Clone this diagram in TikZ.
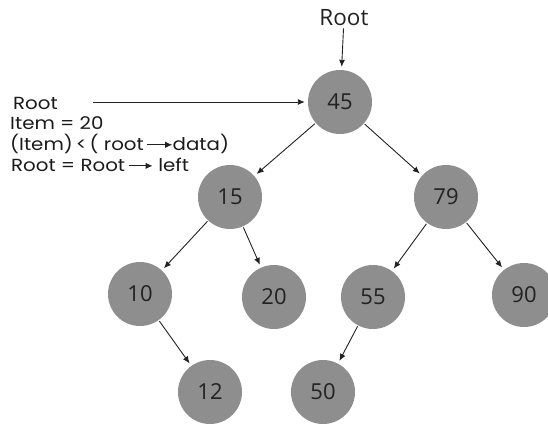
\documentclass[tikz,border=0pt]{standalone}
\usepackage{fontspec}
\setmainfont{Open Sans}
\newfontfamily\lblfont{Poppins}[FakeStretch=1.13]
\usetikzlibrary{arrows.meta}
\definecolor{nodegray}{HTML}{8E8E8E}
\definecolor{ink}{HTML}{222222}
\definecolor{lblink}{HTML}{1A1A1A}
\newcommand{\txtarrow}[1]{\tikz[baseline=-0.6ex]\draw[-{Latex[length=7pt,width=6.5pt]},draw=ink,line width=1pt] (0,0) -- (#1,0);}
\begin{document}
\begin{tikzpicture}[x=1pt,y=-1pt,
  bnode/.style={circle,fill=nodegray,minimum size=64pt,inner sep=0pt,text=ink,font=\fontsize{22}{24}\selectfont},
  lbl/.style={anchor=west,inner sep=0pt,text=lblink,font=\lblfont\fontsize{17.5}{19}\selectfont},
  arr/.style={-{Latex[length=7pt,width=6pt]},draw=ink,line width=0.9pt,shorten >=3pt,shorten <=1pt}]
\useasboundingbox (0,0) rectangle (548,426);
\node[bnode] (n45) at (340,102) {45};
\node[bnode] (n15) at (230,197) {15};
\node[bnode] (n79) at (446,197) {79};
\node[bnode] (n10) at (140,294) {10};
\node[bnode] (n20) at (274,297) {20};
\node[bnode] (n55) at (373,297) {55};
\node[bnode] (n90) at (524,295) {90};
\node[bnode] (n12) at (210,392) {12};
\node[bnode] (n50) at (323,392) {50};
\node[inner sep=0pt,text=ink,font=\fontsize{22.5}{24}\selectfont] (root) at (344,18) {Root};
\node[lbl] (l1) at (13,103) {Root};
\node[lbl] (l2) at (10,123) {Item = 20};
\node[lbl] (l3) at (10,144) {(Item)\,<\,( root\,\txtarrow{25pt}data)};
\node[lbl] (l4) at (11,165) {Root = Root\,\txtarrow{24pt} left};
\coordinate (a1) at (93,102);
\draw[arr,shorten <=0pt] (a1) -- (n45);
\draw[arr,shorten <=2pt] (root) -- (n45);
\draw[arr] (n45) -- (n15);
\draw[arr] (n45) -- (n79);
\draw[arr] (n15) -- (n10);
\draw[arr] (n15) -- (n20);
\draw[arr] (n79) -- (n55);
\draw[arr] (n79) -- (n90);
\draw[arr] (n10) -- (n12);
\draw[arr] (n55) -- (n50);
\end{tikzpicture}
\end{document}
